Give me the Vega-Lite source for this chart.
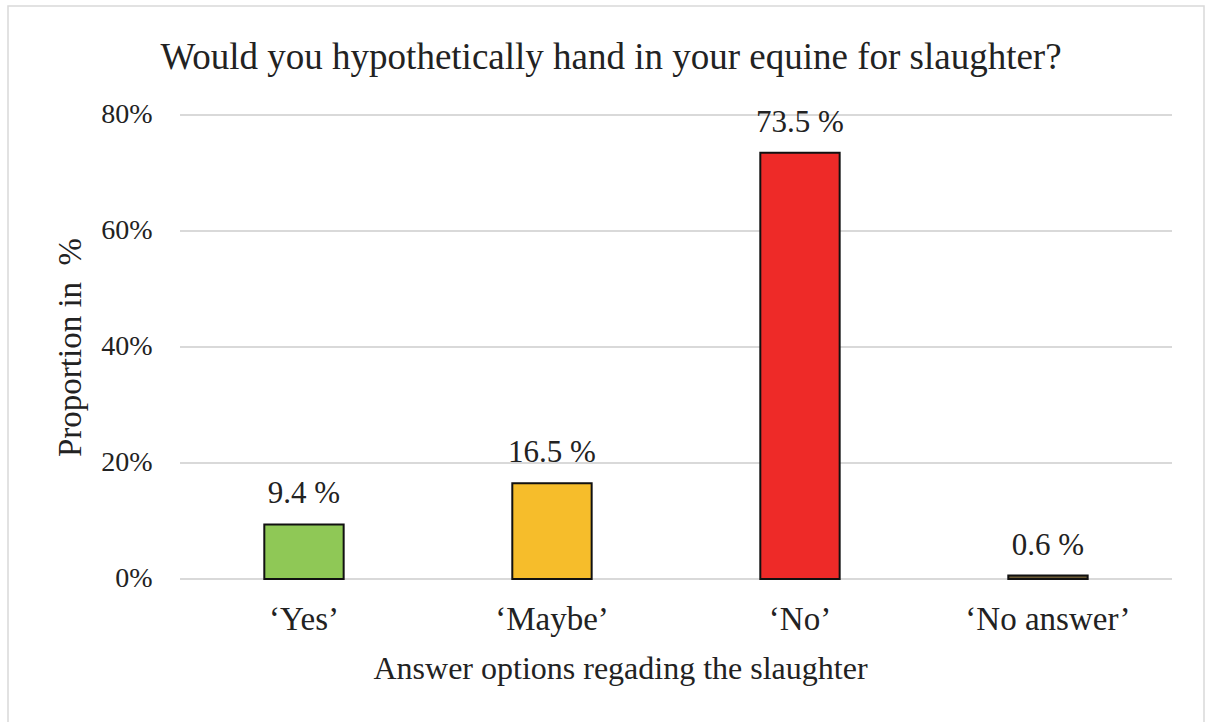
{
  "$schema": "https://vega.github.io/schema/vega-lite/v6.json",
  "width": 1196,
  "height": 718,
  "autosize": {"type": "none"},
  "padding": {"left": 8, "top": 6, "right": 2, "bottom": 0},
  "background": "white",
  "config": {
    "view": {"stroke": "#d9d9d9", "strokeWidth": 1.5},
    "font": "Liberation Serif",
    "text": {"font": "Liberation Serif"}
  },
  "title": {
    "text": "Would you hypothetically hand in your equine for slaughter?",
    "font": "Liberation Serif",
    "fontSize": 37,
    "fontWeight": "normal",
    "color": "#222222",
    "anchor": "middle",
    "frame": "group",
    "orient": "top",
    "baseline": "alphabetic",
    "dx": 5,
    "dy": 39,
    "offset": -61
  },
  "datasets": {
    "answers": [
      {"answer": "‘Yes’", "share": 9.4},
      {"answer": "‘Maybe’", "share": 16.5},
      {"answer": "‘No’", "share": 73.5},
      {"answer": "‘No answer’", "share": 0.6}
    ],
    "gridlines": [
      {"level": 0},
      {"level": 20},
      {"level": 40},
      {"level": 60},
      {"level": 80}
    ]
  },
  "resolve": {"scale": {"x": "shared", "y": "shared"}},
  "layer": [
    {
      "data": {"name": "gridlines"},
      "mark": {"type": "rule", "color": "#d9d9d9", "strokeWidth": 2},
      "encoding": {
        "y": {
          "field": "level",
          "type": "quantitative",
          "title": "Proportion in\u00a0\u00a0%",
          "scale": {"domain": [-25, 98.793], "nice": false, "zero": false},
          "axis": {
            "orient": "left",
            "offset": -172,
            "title": "Proportion in\u00a0\u00a0%",
            "titleFont": "Liberation Serif",
            "titleFontSize": 33,
            "titleFontWeight": "normal",
            "titleColor": "#222222",
            "titleX": -110,
            "titleY": 341,
            "titleAlign": "center",
            "titleBaseline": "middle",
            "values": [0, 20, 40, 60, 80],
            "labelExpr": "datum.value + '%'",
            "labelFont": "Liberation Serif",
            "labelFontSize": 28,
            "labelColor": "#222222",
            "labelPadding": 28,
            "domain": false,
            "ticks": false,
            "grid": false
          }
        },
        "x": {
          "datum": "‘Yes’",
          "type": "nominal",
          "bandPosition": -1.0625,
          "title": "Answer options regading the slaughter",
          "scale": {
            "domain": ["‘Yes’", "‘Maybe’", "‘No’", "‘No answer’"],
            "paddingInner": 0.68,
            "paddingOuter": 0.7513,
            "align": 0.6878
          },
          "axis": {
            "orient": "bottom",
            "offset": -145,
            "title": "Answer options regading the slaughter",
            "titleFont": "Liberation Serif",
            "titleFontSize": 32,
            "titleFontWeight": "normal",
            "titleColor": "#222222",
            "titleX": 612,
            "titleY": 99,
            "titleAlign": "center",
            "titleBaseline": "alphabetic",
            "labelFont": "Liberation Serif",
            "labelFontSize": 33,
            "labelColor": "#222222",
            "labelAngle": 0,
            "labelPadding": 24,
            "domain": false,
            "ticks": false,
            "grid": false
          }
        },
        "x2": {"datum": "‘No answer’", "bandPosition": 2.0625}
      }
    },
    {
      "data": {"name": "answers"},
      "transform": [
        {"calculate": "format(datum.share, '.1f') + ' %'", "as": "label"}
      ],
      "encoding": {
        "x": {
          "field": "answer",
          "type": "nominal",
          "sort": null,
          "title": "Answer options regading the slaughter"
        },
        "y": {
          "field": "share",
          "type": "quantitative",
          "title": "Proportion in\u00a0\u00a0%"
        }
      },
      "layer": [
        {
          "mark": {"type": "bar", "stroke": "#111111", "strokeWidth": 2},
          "encoding": {
            "fill": {
              "field": "answer",
              "type": "nominal",
              "legend": null,
              "scale": {
                "domain": ["‘Yes’", "‘Maybe’", "‘No’", "‘No answer’"],
                "range": ["#8fc856", "#f6bd2b", "#ee2a28", "#6b5a35"]
              }
            }
          }
        },
        {
          "mark": {
            "type": "text",
            "baseline": "alphabetic",
            "dy": -21,
            "fontSize": 31,
            "color": "#222222",
            "font": "Liberation Serif"
          },
          "encoding": {"text": {"field": "label"}}
        }
      ]
    }
  ]
}
